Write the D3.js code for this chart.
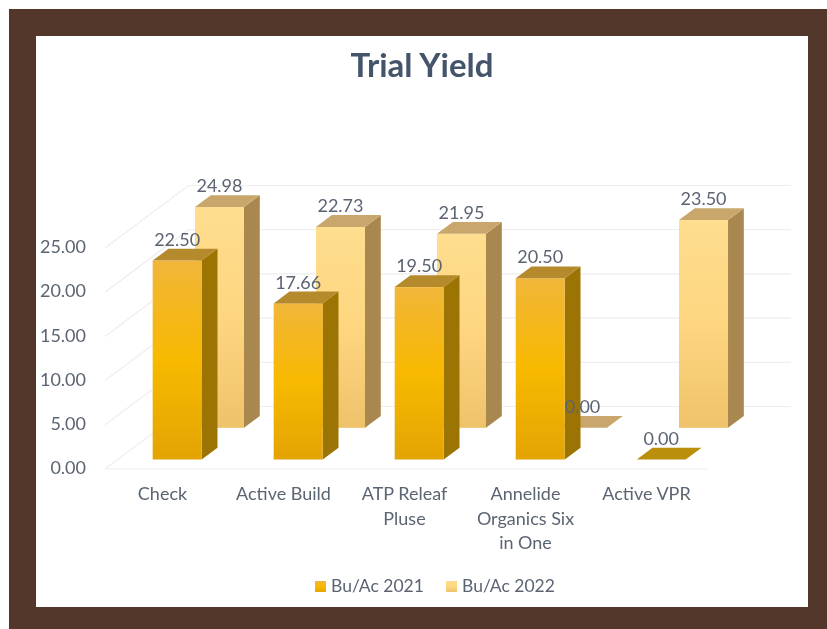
<!DOCTYPE html>
<html>
<head>
<meta charset="utf-8">
<title>Trial Yield</title>
<script src="https://cdn.jsdelivr.net/npm/d3@7"></script>
<style>
  html, body { margin: 0; padding: 0; background: #fff; }
  svg { display: block; }
  text { font-family: Lato, "Open Sans", sans-serif; fill: #5b6472; }
  #chart { filter: blur(0.35px); }
</style>
</head>
<body>
<svg width="827" height="629"></svg>
<script>
var categories = ["Check", "Active Build", "ATP Releaf Pluse", "Annelide Organics Six in One", "Active VPR"];
var categoryLines = [["Check"], ["Active Build"], ["ATP Releaf", "Pluse"], ["Annelide", "Organics Six", "in One"], ["Active VPR"]];
var seriesNames = ["Bu/Ac 2021", "Bu/Ac 2022"];
var values2021 = [22.50, 17.66, 19.50, 20.50, 0.00];
var values2022 = [24.98, 22.73, 21.95, 0.00, 23.50];
var yTicks = [0, 5, 10, 15, 20, 25];

var DEPTH_X = 83.5, DEPTH_Y = -62.5;

var svg = d3.select("svg");

var colors = [
  {top: "#b58a2c", side: "#9c7404", flat: "#b98f0c", stops: ["#f1b63a", "#f8b900", "#e3a404"]},
  {top: "#c9a76c", side: "#a9884f", flat: "#c9a76c", stops: ["#fedd8e", "#fed680", "#eec26a"]}
];

// frame
svg.append("rect").attr("x", 9).attr("y", 9).attr("width", 818).attr("height", 620).attr("fill", "#54372b");
svg.append("rect").attr("x", 36).attr("y", 36).attr("width", 772).attr("height", 571).attr("fill", "#fff");

var defs = svg.append("defs");
colors.forEach(function (c, i) {
  var grad = defs.append("linearGradient")
    .attr("id", "face" + i)
    .attr("x1", 0).attr("y1", 0).attr("x2", 0).attr("y2", 1);
  c.stops.forEach(function (s, j) {
    grad.append("stop").attr("offset", j / 2 * 100 + "%").attr("stop-color", s);
  });
});

var chart = svg.append("g").attr("id", "chart");

var x = d3.scaleBand().domain(categories).range([105, 708]).paddingInner(0.595).paddingOuter(0.289);
var y = d3.scaleLinear().domain([0, 25]).range([469, 248]);
var z = d3.scaleBand().domain(seriesNames).range([0, 1]).paddingInner(0.626).paddingOuter(0.3);

// projects a point of the 3d box onto the page
function px(xv, depth) { return xv + depth * DEPTH_X; }
function py(v, depth) { return y(v) + depth * DEPTH_Y; }
function poly(points) { return d3.line()(points) + "Z"; }

chart.append("text")
  .attr("x", 422).attr("y", 77)
  .attr("text-anchor", "middle")
  .style("font-size", "33px").style("font-weight", "700").style("fill", "#44546a")
  .text("Trial Yield");

// walls
var grid = chart.append("g").attr("fill", "none").attr("stroke", "#eeeeee").attr("stroke-width", 1.2);
yTicks.forEach(function (t) {
  grid.append("path").attr("d", d3.line()([
    [px(105, 0), py(t, 0)], [px(105, 1), py(t, 1)], [791, py(t, 1)]
  ]));
});
grid.append("path").attr("d", d3.line()([[105, y(0)], [708, y(0)]]));

var yAxis = d3.axisLeft(y).tickValues(yTicks).tickFormat(d3.format(".2f")).tickSize(0).tickPadding(0);
var yG = chart.append("g").attr("transform", "translate(86,-1)").call(yAxis);
yG.select(".domain").remove();
yG.selectAll("text").style("font-size", "18px").style("font-family", null);

function drawSeries(name, vals, c, i) {
  var d0 = z(name), d1 = d0 + z.bandwidth();
  var g = chart.append("g").attr("class", "series");
  vals.forEach(function (v, k) {
    var left = x(categories[k]), right = left + x.bandwidth();
    var flat = v === 0;
    if (!flat) {
      g.append("path").attr("fill", c.side).attr("d", poly([
        [px(right, d0), py(0, d0)], [px(right, d1), py(0, d1)],
        [px(right, d1), py(v, d1)], [px(right, d0), py(v, d0)]
      ]));
      g.append("rect")
        .attr("x", px(left, d0)).attr("y", py(v, d0))
        .attr("width", x.bandwidth()).attr("height", py(0, d0) - py(v, d0))
        .attr("fill", "url(#face" + i + ")");
    }
    g.append("path").attr("fill", flat ? c.flat : c.top).attr("d", poly([
      [px(left, d0), py(v, d0)], [px(right, d0), py(v, d0)],
      [px(right, d1), py(v, d1)], [px(left, d1), py(v, d1)]
    ]));
  });
}

// back row first so the front row covers it
drawSeries(seriesNames[1], values2022, colors[1], 1);
drawSeries(seriesNames[0], values2021, colors[0], 0);

[values2022, values2021].forEach(function (vals, s) {
  var name = seriesNames[1 - s];
  var d0 = z(name), d1 = d0 + z.bandwidth();
  vals.forEach(function (v, k) {
    chart.append("text")
      .attr("x", px(x(categories[k]) + x.bandwidth() / 2, d0))
      .attr("y", py(v, d1) - 3)
      .attr("text-anchor", "middle")
      .style("font-size", "18px")
      .text(d3.format(".2f")(v));
  });
});

// category labels
categoryLines.forEach(function (lines, k) {
  lines.forEach(function (line, j) {
    chart.append("text")
      .attr("x", x(categories[k]) + x.bandwidth() / 2 - 2)
      .attr("y", 500 + j * 24.5)
      .attr("text-anchor", "middle")
      .style("font-size", "18px")
      .text(line);
  });
});

// legend
var legendX = [315, 446];
seriesNames.forEach(function (name, i) {
  chart.append("rect")
    .attr("x", legendX[i]).attr("y", 581)
    .attr("width", 11).attr("height", 11)
    .attr("fill", "url(#face" + i + ")");
  chart.append("text")
    .attr("x", legendX[i] + 16).attr("y", 592)
    .style("font-size", "17.5px")
    .text(name);
});
</script>
</body>
</html>
